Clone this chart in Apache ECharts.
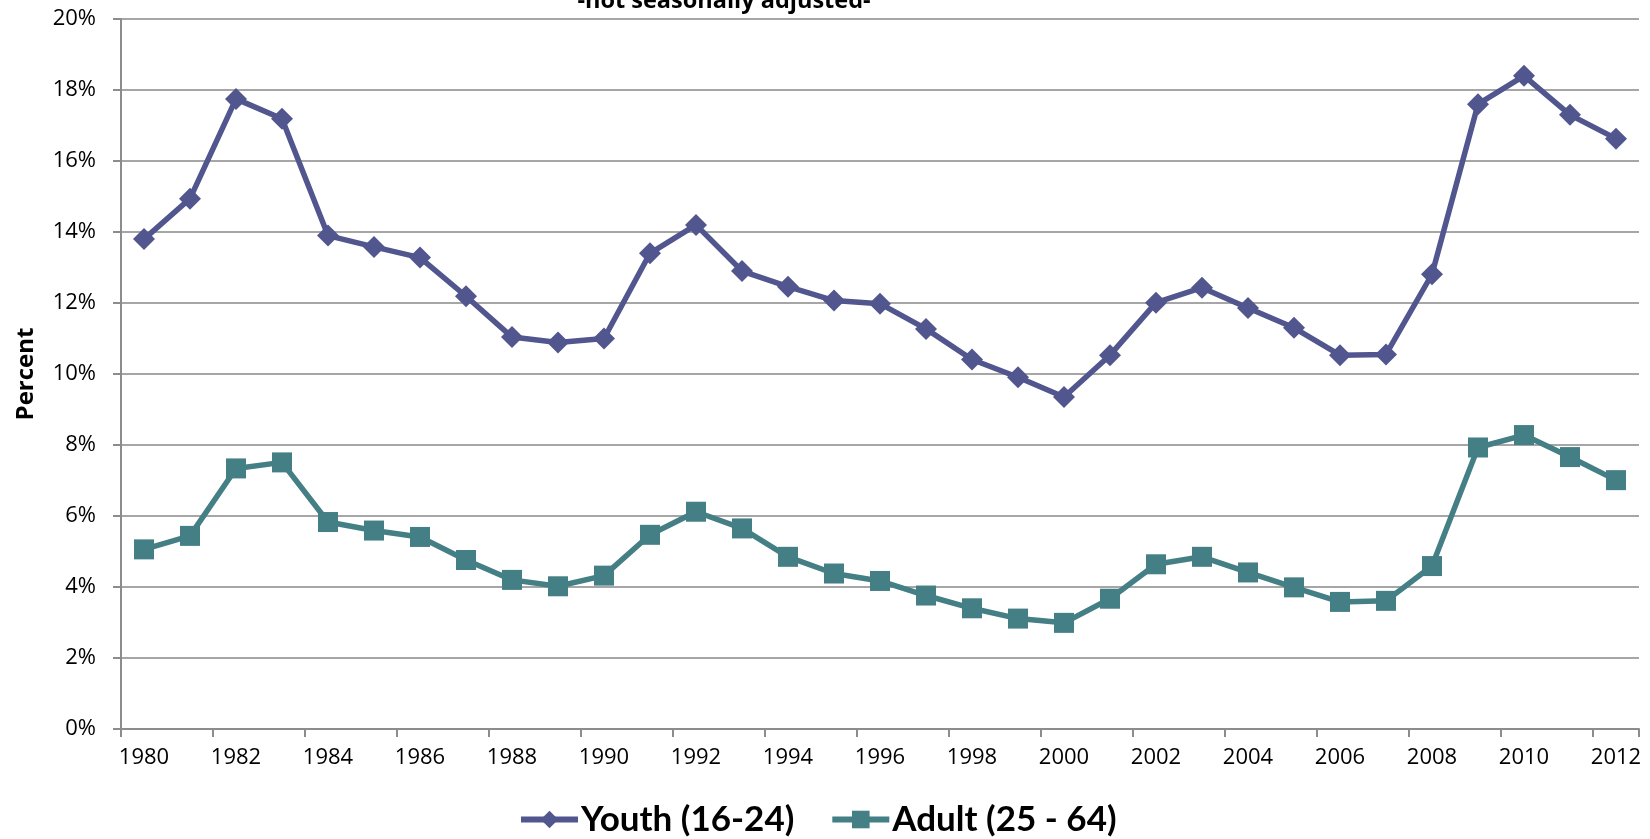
<!DOCTYPE html>
<html>
<head>
<meta charset="utf-8">
<script src="https://cdn.jsdelivr.net/npm/echarts@6/dist/echarts.min.js"></script>
<style>
html,body{margin:0;padding:0;background:#fff;}
#chart{width:1650px;height:839px;}
</style>
</head>
<body>
<div id="chart"></div>
<script>
const years = ['1980','1981','1982','1983','1984','1985','1986','1987','1988','1989','1990','1991','1992','1993','1994','1995','1996','1997','1998','1999','2000','2001','2002','2003','2004','2005','2006','2007','2008','2009','2010','2011','2012'];
const youth = [13.8,14.94,17.75,17.19,13.9,13.58,13.28,12.19,11.04,10.89,11.0,13.4,14.2,12.9,12.46,12.07,11.98,11.27,10.41,9.91,9.35,10.53,12.01,12.43,11.86,11.3,10.53,10.55,12.81,17.6,18.4,17.3,16.63];
const adult = [5.06,5.44,7.34,7.51,5.83,5.59,5.41,4.76,4.2,4.02,4.32,5.47,6.12,5.65,4.85,4.38,4.17,3.76,3.4,3.11,2.99,3.67,4.64,4.85,4.41,3.99,3.58,3.61,4.59,7.93,8.28,7.66,7.01];
const seriesNames = ['Youth (16-24)','Adult (25 - 64)'];
const subtitle = '-not seasonally adjusted-';
const yAxisName = 'Percent';

const FONT = 'Open Sans';
const chart = echarts.init(document.getElementById('chart'));
chart.setOption({
  animation: false,
  backgroundColor: '#ffffff',
  title: {
    text: subtitle,
    left: 719, textAlign: 'center',
    top: -16,
    textStyle: {fontFamily: FONT, fontSize: 23.5, fontWeight: 'bold', color: '#000'}
  },
  grid: {left: 121, right: 11, top: 19, bottom: 110, containLabel: false},
  legend: {
    bottom: -3,
    left: 513,
    itemWidth: 57, itemHeight: 22, itemGap: 35,
    lineStyle: {width: 6},
    textStyle: {fontFamily: 'Lato', fontSize: 35, fontWeight: 'bold', color: '#000', padding: [0,0,0,-2]},
    data: seriesNames
  },
  xAxis: {
    type: 'category',
    data: years,
    boundaryGap: true,
    axisLine: {lineStyle: {color: '#8c8c8c', width: 2}},
    axisTick: {show: true, length: 8, lineStyle: {color: '#8c8c8c', width: 2}},
    axisLabel: {interval: 1, margin: 18, fontFamily: FONT, fontSize: 22, color: '#000'}
  },
  yAxis: {
    type: 'value',
    min: 0, max: 20, interval: 2,
    name: yAxisName,
    nameLocation: 'middle',
    nameGap: 83,
    nameTextStyle: {fontFamily: FONT, fontSize: 24, fontWeight: 'bold', color: '#000'},
    axisLine: {show: true, lineStyle: {color: '#8c8c8c', width: 2}},
    axisTick: {show: true, length: 8, lineStyle: {color: '#8c8c8c', width: 2}},
    axisLabel: {margin: 25, fontFamily: FONT, fontSize: 22, color: '#000', formatter: v => v + '%'},
    splitLine: {lineStyle: {color: '#a6a6a6', width: 2}}
  },
  series: [
    {
      name: seriesNames[0], type: 'line', data: youth,
      symbol: 'diamond', symbolSize: 22,
      lineStyle: {color: '#52568e', width: 5.5},
      itemStyle: {color: '#52568e'},
      z: 3
    },
    {
      name: seriesNames[1], type: 'line', data: adult,
      symbol: 'rect', symbolSize: 20,
      lineStyle: {color: '#437f85', width: 5.5},
      itemStyle: {color: '#437f85'},
      z: 2
    }
  ]
});
</script>
</body>
</html>
